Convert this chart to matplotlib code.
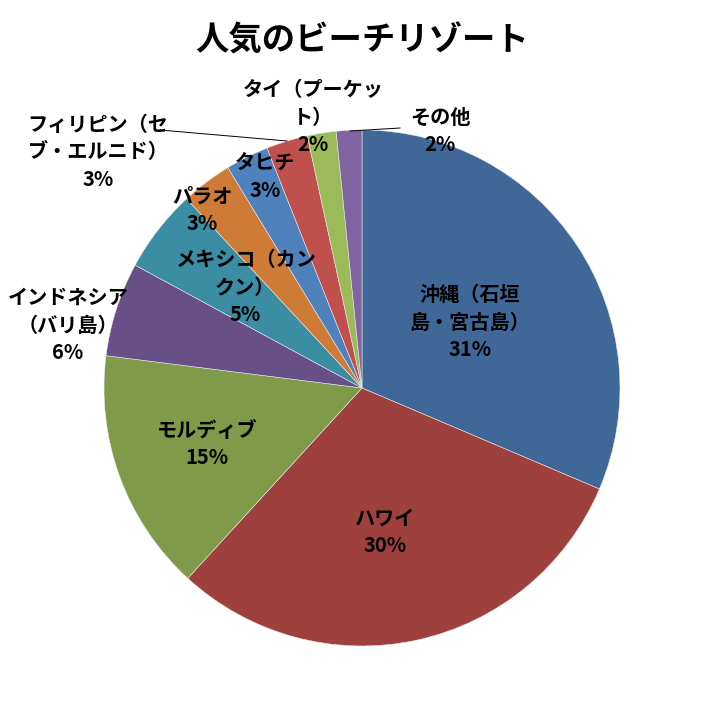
import matplotlib
matplotlib.use("Agg")
import matplotlib.pyplot as plt

plt.rcParams['font.family'] = ['Noto Sans CJK JP', 'DejaVu Sans']

# データ
kuni = ["沖縄（石垣\n島・宮古島）", "ハワイ", "モルディブ", "インドネシア\n（バリ島）",
        "メキシコ（カン\nクン）", "パラオ", "タヒチ", "フィリピン（セ\nブ・エルニド）",
        "タイ（プーケッ\nト）", "その他"]
wariai = [31.4, 30.4, 15.2, 5.9, 5.2, 3.2, 2.7, 2.6, 1.8, 1.6]
iro = ["#3F6899", "#9E413E", "#7F9A48", "#684F86", "#3B8DA3", "#CD7B37",
       "#4F81BD", "#C0504D", "#9BBB59", "#8064A2"]

# ラベル位置 (画素)
label_px = [(470, 322), (385, 532), (207, 444), (68, 325), (245, 287),
            (202, 210), (265, 177), (98, 152), (313, 117), (440, 131)]

fig = plt.figure(figsize=(7.24, 7.08), dpi=100)
W, H = 724, 708
cx, cy, r = 362, 388, 258
ax = fig.add_axes([(cx - r) / W, 1 - (cy + r) / H, 2 * r / W, 2 * r / H])

wedges, _ = ax.pie(wariai, colors=iro, startangle=90, counterclock=False,
                   radius=1, wedgeprops=dict(edgecolor="#E8E8E8", linewidth=0.4))
ax.set_xlim(-1, 1)
ax.set_ylim(-1, 1)
ax.set_aspect("equal")
ax.axis("off")

def px2d(px, py):
    return (px - cx) / r, (cy - py) / r

for name, v, (px, py) in zip(kuni, wariai, label_px):
    x, y = px2d(px, py)
    ax.text(x, y, f"{name}\n{v:.0f}%", ha="center", va="center", fontsize=14.5,
            fontweight="bold", linespacing=1.38, clip_on=False)

# 引き出し線
for (x0, y0), (x1, y1) in [((160, 130), (287, 141)), ((400, 128), (350, 131))]:
    a, b = px2d(x0, y0)
    c, d = px2d(x1, y1)
    ax.plot([a, c], [b, d], color="black", linewidth=0.7, clip_on=False)

fig.text(0.5, 1 - 41 / H, "人気のビーチリゾート", ha="center", va="center",
         fontsize=24, fontweight="bold")

fig.savefig("out.png", dpi=100)
